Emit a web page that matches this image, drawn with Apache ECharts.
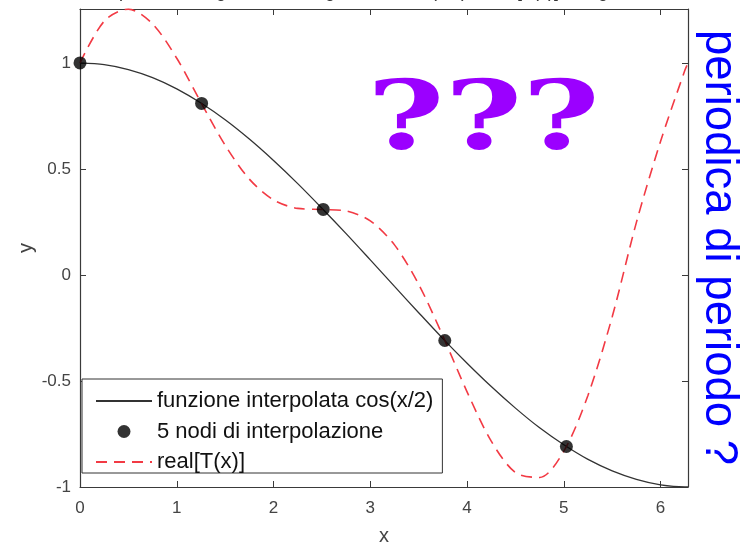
<!DOCTYPE html>
<html>
<head>
<meta charset="utf-8">
<script src="https://cdn.jsdelivr.net/npm/echarts@6/dist/echarts.min.js"></script>
<style>
  html, body { margin: 0; padding: 0; background: #fff; }
  #chart { width: 742px; height: 544px; }
</style>
</head>
<body>
<div id="chart"></div>
<script>
// sample abscissae on [0, 2π]
const xSamples = [0, 0.25, 0.5, 0.75, 1.0, 1.25, 1.5, 1.75, 2.0, 2.25, 2.5, 2.75, 3.0,
  3.25, 3.5, 3.75, 4.0, 4.25, 4.5, 4.75, 5.0, 5.25, 5.5, 5.75, 6.0, 6.25, 6.2832];
// interpolated function cos(x/2)
const cosValues = [1.0, 0.992, 0.969, 0.931, 0.878, 0.811, 0.732, 0.641, 0.540, 0.431,
  0.315, 0.195, 0.071, -0.054, -0.178, -0.300, -0.416, -0.526, -0.628, -0.721, -0.801,
  -0.870, -0.924, -0.964, -0.990, -1.000, -1.0];
// real part of the trigonometric interpolant T(x)
const realTValues = [1.0, 1.197, 1.254, 1.184, 1.022, 0.814, 0.612, 0.452, 0.354, 0.314,
  0.309, 0.302, 0.255, 0.142, -0.044, -0.288, -0.551, -0.784, -0.932, -0.955, -0.831,
  -0.567, -0.197, 0.248, 0.631, 0.964, 1.0];
// the 5 interpolation nodes
const nodeX = [0, 1.2566, 2.5133, 3.7699, 5.0265];
const nodeY = [1.0, 0.809, 0.309, -0.309, -0.809];

const xMax = 6.2832;
const yMin = -1, yMax = 1.2545;

const seriesNames = ['funzione interpolata cos(x/2)', '5 nodi di interpolazione', 'real[T(x)]'];
const titleText = 'Interpolazione trigonometrica: grafico di cos(x/2) e real[T(x)] con grado 2';
const sideText = 'periodica di periodo ?';
const bigMarks = '???';

const pair = (xs, ys) => xs.map((x, i) => [x, ys[i]]);

const axisColor = '#3a3a3a';
const labelColor = '#444';
const font = 'Liberation Sans';

const chart = echarts.init(document.getElementById('chart'), null, { renderer: 'canvas' });
chart.setOption({
  animation: false,
  backgroundColor: '#fff',
  grid: { left: 80, right: 54, top: 9, bottom: 57, containLabel: false, outerBoundsMode: 'none' },
  xAxis: [
    {
      type: 'value', min: 0, max: xMax, interval: 1, position: 'bottom',
      name: 'x', nameLocation: 'middle', nameGap: 39,
      nameTextStyle: { fontFamily: font, fontSize: 20, color: labelColor },
      axisLine: { onZero: false, lineStyle: { color: axisColor, width: 1.2 } },
      axisTick: { inside: true, length: 6, lineStyle: { color: axisColor } },
      axisLabel: { showMaxLabel: false, margin: 13, fontFamily: font, fontSize: 17, color: labelColor },
      splitLine: { show: false }
    },
    {
      type: 'value', min: 0, max: xMax, interval: 1, position: 'top',
      axisLine: { onZero: false, lineStyle: { color: axisColor, width: 1.2 } },
      axisTick: { inside: true, length: 6, lineStyle: { color: axisColor } },
      axisLabel: { show: false },
      splitLine: { show: false }
    }
  ],
  yAxis: [
    {
      type: 'value', min: yMin, max: yMax, interval: 0.5, position: 'left',
      name: 'y', nameLocation: 'middle', nameGap: 44, nameRotate: 90, nameMoveOverlap: false,
      nameTextStyle: { fontFamily: font, fontSize: 20, color: labelColor },
      axisLine: { onZero: false, lineStyle: { color: axisColor, width: 1.2 } },
      axisTick: { inside: true, length: 6, lineStyle: { color: axisColor } },
      axisLabel: { showMaxLabel: false, margin: 9, padding: [6, 0, 0, 0],
        fontFamily: font, fontSize: 17, color: labelColor },
      splitLine: { show: false }
    },
    {
      type: 'value', min: yMin, max: yMax, interval: 0.5, position: 'right',
      axisLine: { onZero: false, lineStyle: { color: axisColor, width: 1.2 } },
      axisTick: { inside: true, length: 6, lineStyle: { color: axisColor } },
      axisLabel: { show: false },
      splitLine: { show: false }
    }
  ],
  legend: {
    orient: 'vertical', left: 82, top: 379,
    backgroundColor: '#fff', borderColor: '#333', borderWidth: 1,
    padding: [11, 9, 0, 13],
    itemWidth: 56, itemHeight: 13, itemGap: 8.5,
    textStyle: { fontFamily: font, fontSize: 22, color: '#111', lineHeight: 22 },
    data: [
      { name: seriesNames[0], itemStyle: { opacity: 0 } },
      { name: seriesNames[1] },
      { name: seriesNames[2], itemStyle: { opacity: 0 } }
    ]
  },
  series: [
    {
      name: seriesNames[0], type: 'line', symbol: 'none', smooth: 0.3,
      xAxisIndex: 0, yAxisIndex: 0,
      lineStyle: { color: '#333', width: 1.3 },
      itemStyle: { color: '#333' },
      data: pair(xSamples, cosValues), z: 3
    },
    {
      name: seriesNames[1], type: 'scatter', symbol: 'circle', symbolSize: 13,
      xAxisIndex: 0, yAxisIndex: 0,
      itemStyle: { color: '#000' },
      data: pair(nodeX, nodeY), z: 5
    },
    {
      name: seriesNames[2], type: 'line', symbol: 'none', smooth: 0.3,
      xAxisIndex: 0, yAxisIndex: 0,
      lineStyle: { color: '#f23a44', width: 1.6, type: [11, 7] },
      itemStyle: { color: '#f23a44' },
      data: pair(xSamples, realTValues), z: 4
    }
  ],
  graphic: [
    {
      type: 'text', left: 'center', top: -17, z: 10,
      style: { text: titleText, fontFamily: font, fontSize: 18, fill: '#333' }
    },
    {
      type: 'text', x: 367, y: 76, scaleX: 1.38, z: 10,
      style: { text: bigMarks, fontFamily: 'DejaVu Serif', fontWeight: 'bold', fontSize: 96, fill: '#9b00ff' }
    },
    {
      type: 'text', x: 696, y: 30, rotation: -Math.PI / 2, z: 10,
      style: { text: sideText, fontFamily: font, fontSize: 45.5, fill: '#0000ff',
        textVerticalAlign: 'bottom' }
    }
  ]
});
</script>
</body>
</html>
